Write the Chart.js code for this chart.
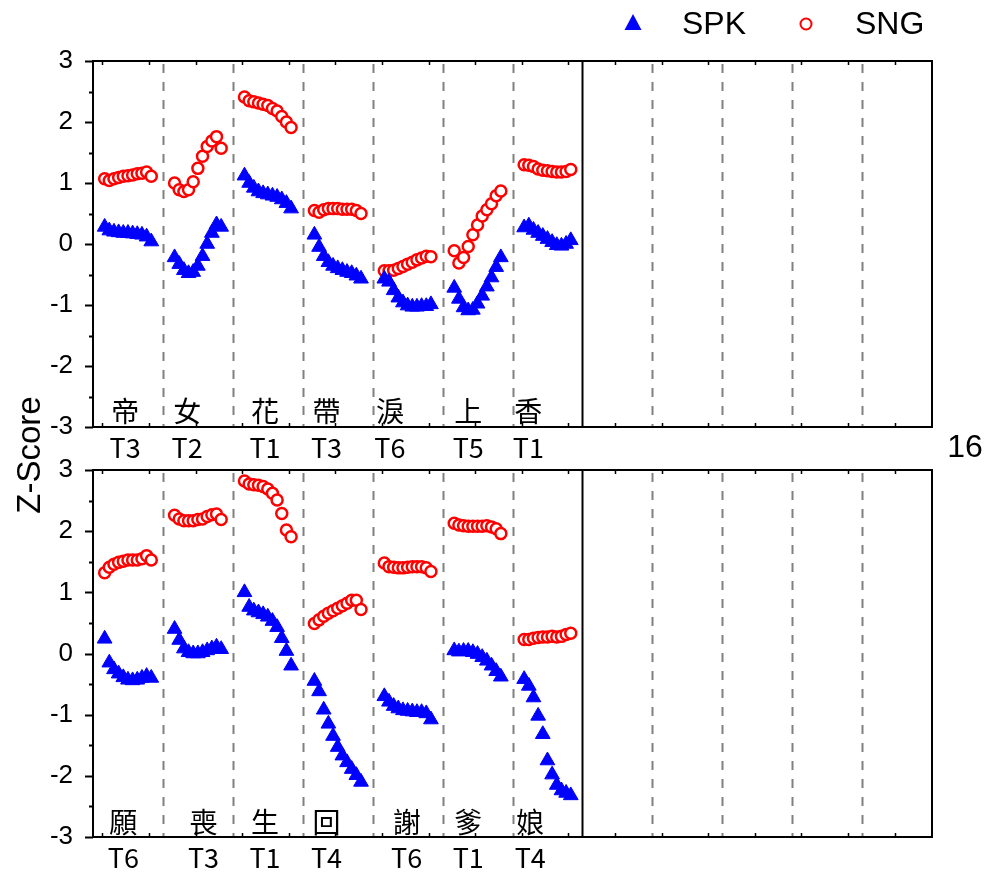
<!DOCTYPE html>
<html>
<head>
<meta charset="utf-8">
<title>Z-Score</title>
<script src="https://cdn.jsdelivr.net/npm/chart.js@4.4.1/dist/chart.umd.min.js"></script>
<style>
  html, body { margin: 0; padding: 0; background: #fff; }
  #wrap { position: relative; width: 993px; height: 879px; }
  canvas { position: absolute; left: 0; top: 0; }
</style>
</head>
<body>
<div id="wrap">
  <canvas id="topPanel" width="993" height="879"></canvas>
  <canvas id="bottomPanel" width="993" height="879"></canvas>
</div>
<script>
// upper panel syllables
const topChars = ["帝", "女", "花", "帶", "淚", "上", "香"];
const topTones = ["T3", "T2", "T1", "T3", "T6", "T5", "T1"];
const topSpk = [
  [0.28, 0.22, 0.20, 0.19, 0.18, 0.18, 0.17, 0.16, 0.15, 0.12, 0.04],
  [-0.22, -0.33, -0.43, -0.48, -0.46, -0.36, -0.20, 0.00, 0.18, 0.32, 0.28],
  [1.12, 1.00, 0.92, 0.86, 0.83, 0.81, 0.79, 0.77, 0.73, 0.67, 0.58],
  [0.15, -0.05, -0.20, -0.30, -0.36, -0.40, -0.43, -0.46, -0.48, -0.52, -0.57],
  [-0.57, -0.62, -0.76, -0.88, -0.96, -1.01, -1.03, -1.03, -1.02, -1.02, -0.99],
  [-0.72, -0.90, -1.04, -1.09, -1.08, -0.98, -0.85, -0.70, -0.55, -0.38, -0.22],
  [0.27, 0.30, 0.23, 0.18, 0.13, 0.08, 0.03, -0.02, -0.03, 0.00, 0.06]
];
const topSng = [
  [1.07, 1.04, 1.07, 1.09, 1.11, 1.12, 1.13, 1.15, 1.16, 1.18, 1.11],
  [1.00, 0.89, 0.86, 0.89, 1.02, 1.24, 1.44, 1.60, 1.69, 1.76, 1.57],
  [2.41, 2.35, 2.33, 2.31, 2.29, 2.27, 2.22, 2.18, 2.09, 2.00, 1.91],
  [0.55, 0.52, 0.56, 0.58, 0.58, 0.58, 0.57, 0.57, 0.57, 0.55, 0.50],
  [-0.44, -0.44, -0.43, -0.40, -0.37, -0.33, -0.30, -0.26, -0.23, -0.20, -0.21],
  [-0.11, -0.31, -0.22, -0.04, 0.15, 0.31, 0.46, 0.56, 0.66, 0.79, 0.87],
  [1.30, 1.29, 1.27, 1.23, 1.21, 1.20, 1.19, 1.18, 1.18, 1.19, 1.22]
];

// lower panel syllables
const bottomChars = ["願", "喪", "生", "回", "謝", "爹", "娘"];
const bottomTones = ["T6", "T3", "T1", "T4", "T6", "T1", "T4"];
const bottomSpk = [
  [0.24, -0.15, -0.26, -0.33, -0.39, -0.43, -0.44, -0.43, -0.40, -0.37, -0.40],
  [0.40, 0.22, 0.08, 0.02, 0.00, 0.00, 0.02, 0.05, 0.08, 0.11, 0.07],
  [1.00, 0.76, 0.70, 0.67, 0.64, 0.60, 0.53, 0.43, 0.25, 0.04, -0.20],
  [-0.45, -0.62, -0.92, -1.15, -1.35, -1.53, -1.67, -1.78, -1.89, -1.99, -2.10],
  [-0.70, -0.79, -0.86, -0.90, -0.93, -0.94, -0.95, -0.96, -0.96, -0.98, -1.08],
  [0.05, 0.03, 0.04, 0.04, 0.02, -0.01, -0.06, -0.12, -0.20, -0.29, -0.38],
  [-0.42, -0.53, -0.72, -1.02, -1.32, -1.75, -1.98, -2.15, -2.24, -2.28, -2.32]
];
const bottomSng = [
  [1.32, 1.41, 1.46, 1.49, 1.51, 1.53, 1.53, 1.53, 1.55, 1.60, 1.53],
  [2.26, 2.20, 2.17, 2.17, 2.17, 2.19, 2.20, 2.24, 2.27, 2.28, 2.19],
  [2.82, 2.77, 2.76, 2.75, 2.73, 2.69, 2.62, 2.51, 2.29, 2.02, 1.91],
  [0.49, 0.55, 0.61, 0.66, 0.70, 0.74, 0.78, 0.82, 0.87, 0.87, 0.72],
  [1.48, 1.42, 1.41, 1.40, 1.40, 1.41, 1.42, 1.42, 1.42, 1.40, 1.34],
  [2.13, 2.10, 2.09, 2.08, 2.08, 2.08, 2.08, 2.09, 2.07, 2.04, 1.96],
  [0.23, 0.23, 0.25, 0.26, 0.27, 0.27, 0.28, 0.27, 0.28, 0.31, 0.33]
];

// where each syllable label sits along the x axis (axis units)
const topLabelPos = [4.9, 18.2, 34.9, 48.1, 61.7, 78.5, 91.4];
const bottomLabelPos = [4.5, 21.7, 34.9, 48.1, 65.3, 78.5, 91.8];

const COL_SPAN = 15;     // axis units per syllable column
const N_COLS = 12;
const USED_COLS = 7;
const X_MIN = -2;
const SANS = "'Liberation Sans', Arial, sans-serif";
const CJK = "'Noto Sans CJK TC', 'Noto Sans CJK SC', sans-serif";

function toPoints(rows) {
  const pts = [];
  rows.forEach((vals, c) => {
    vals.forEach((v, i) => pts.push({ x: c * COL_SPAN + 0.5 + i, y: v }));
  });
  return pts;
}

function panelDecor(chars, tones, labelPos, charY, toneY, isTop) {
  return {
    id: "panelDecor",
    beforeDatasetsDraw(chart) {
      const { ctx, chartArea: a, scales: { x } } = chart;
      ctx.save();
      ctx.lineWidth = 2;
      for (let c = 1; c < N_COLS; c++) {
        const px = Math.round(x.getPixelForValue(c * COL_SPAN + X_MIN)) + 0.5;
        ctx.beginPath();
        if (c === USED_COLS) {
          ctx.setLineDash([]);
          ctx.strokeStyle = "#000";
          ctx.moveTo(px, a.top);
        } else {
          ctx.setLineDash([9, 9]);
          ctx.strokeStyle = "#808080";
          ctx.moveTo(px, a.top + 3);
        }
        ctx.lineTo(px, a.bottom);
        ctx.stroke();
      }
      ctx.restore();
    },
    afterDraw(chart) {
      const { ctx, chartArea: a, scales: { x, y } } = chart;
      ctx.save();
      // frame
      ctx.strokeStyle = "#000";
      ctx.lineWidth = 2;
      ctx.strokeRect(a.left, a.top, a.right - a.left, a.bottom - a.top);

      // y ticks, major and minor
      for (let v = -3; v <= 3; v += 0.5) {
        const py = Math.round(y.getPixelForValue(v)) + 0.5;
        const len = Number.isInteger(v) ? 8 : 4;
        ctx.beginPath();
        ctx.moveTo(a.left - len, py);
        ctx.lineTo(a.left, py);
        ctx.stroke();
      }
      // small inward x ticks on top and bottom edges
      ctx.lineWidth = 1.5;
      for (let v = 0; v < N_COLS * COL_SPAN + X_MIN; v += 10) {
        const px = Math.round(x.getPixelForValue(v)) + 0.5;
        ctx.beginPath();
        ctx.moveTo(px, a.top);
        ctx.lineTo(px, a.top + 4);
        ctx.moveTo(px, a.bottom);
        ctx.lineTo(px, a.bottom - 4);
        ctx.stroke();
      }

      // syllable and tone labels
      ctx.fillStyle = "#000";
      ctx.textAlign = "center";
      ctx.textBaseline = "middle";
      ctx.font = "28px " + CJK;
      chars.forEach((ch, i) => ctx.fillText(ch, x.getPixelForValue(labelPos[i]), charY));
      ctx.font = "27px " + CJK;
      tones.forEach((t, i) => ctx.fillText(t, x.getPixelForValue(labelPos[i]), toneY));

      if (isTop) {
        // legend
        const sets = chart.data.datasets;
        ctx.fillStyle = sets[0].backgroundColor;
        ctx.beginPath();
        ctx.moveTo(633, 14);
        ctx.lineTo(641.5, 30);
        ctx.lineTo(624.5, 30);
        ctx.closePath();
        ctx.fill();
        ctx.strokeStyle = sets[1].borderColor;
        ctx.lineWidth = 2;
        ctx.beginPath();
        ctx.arc(806, 24, 5.5, 0, Math.PI * 2);
        ctx.stroke();
        ctx.fillStyle = "#000";
        ctx.textAlign = "left";
        ctx.font = "32px " + SANS;
        ctx.fillText(sets[0].label, 682, 25);
        ctx.fillText(sets[1].label, 855, 25);

        ctx.textAlign = "center";
        ctx.fillText("16", 965, 448);

        ctx.translate(31, 455);
        ctx.rotate(-Math.PI / 2);
        ctx.font = "33px " + SANS;
        ctx.fillText("Z-Score", 0, 0);
      }
      ctx.restore();
    }
  };
}

function makePanel(canvasId, spk, sng, chars, tones, labelPos, padTop, padBottom, charY, toneY, isTop) {
  return new Chart(document.getElementById(canvasId), {
    type: "scatter",
    data: {
      datasets: [
        {
          label: "SPK",
          data: toPoints(spk),
          pointStyle: "triangle",
          pointRadius: 8.5,
          pointHoverRadius: 8.5,
          backgroundColor: "#0000ff",
          borderColor: "#0000ff",
          borderWidth: 1
        },
        {
          label: "SNG",
          data: toPoints(sng),
          pointStyle: "circle",
          pointRadius: 5.5,
          pointHoverRadius: 5.5,
          backgroundColor: "#ffffff",
          borderColor: "#ff0000",
          borderWidth: 2.5
        }
      ]
    },
    options: {
      responsive: false,
      animation: false,
      devicePixelRatio: 1,
      layout: { padding: { top: padTop, bottom: padBottom, left: 0, right: 61 } },
      plugins: { legend: { display: false }, tooltip: { enabled: false } },
      scales: {
        x: {
          type: "linear",
          display: false,
          min: X_MIN,
          max: N_COLS * COL_SPAN + X_MIN
        },
        y: {
          min: -3,
          max: 3,
          grid: { display: false },
          border: { display: false },
          ticks: {
            stepSize: 1,
            padding: 12,
            color: "#000",
            font: { family: SANS, size: 26 }
          },
          afterFit(scale) { scale.width = 93; }
        }
      }
    },
    plugins: [panelDecor(chars, tones, labelPos, charY, toneY, isTop)]
  });
}

makePanel("topPanel", topSpk, topSng, topChars, topTones, topLabelPos, 61, 452, 411, 448, true);
makePanel("bottomPanel", bottomSpk, bottomSng, bottomChars, bottomTones, bottomLabelPos, 470, 42, 822, 858, false);
</script>
</body>
</html>
